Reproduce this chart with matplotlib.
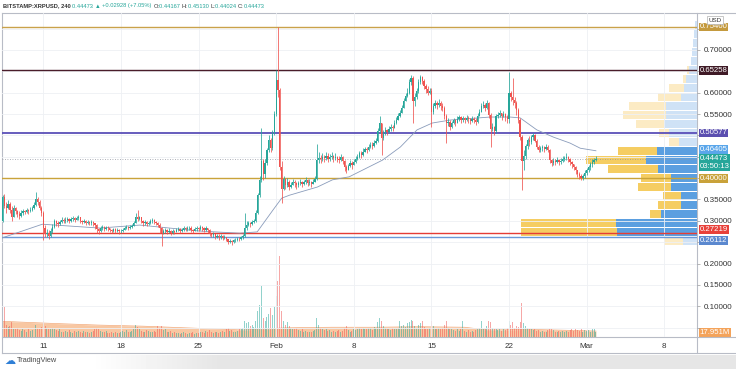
import matplotlib
matplotlib.use('Agg')
import matplotlib.pyplot as plt
import matplotlib.dates as mdates
import matplotlib.transforms as mtransforms
from matplotlib.lines import Line2D
import numpy as np
import pandas as pd

plt.rcParams['font.family'] = ['Liberation Sans', 'DejaVu Sans']

W, H = 736, 369

# ---- BITSTAMP:XRPUSD 4h candles, prices in thousandths of a dollar ----
first_bar = '2021-01-07 08:00'
first_open = 300

closes = [
    356, 335, 330, 340,                      # Jan 7 (from 08:00)
    325, 310, 330, 322, 316, 312,            # Jan 8
    318, 322, 320, 325, 322, 326,            # Jan 9
    330, 338, 352, 345, 330, 318,            # Jan 10
    282, 268, 272, 265, 275, 285,            # Jan 11
    300, 295, 292, 298, 303, 300,            # Jan 12
    302, 305, 300, 304, 306, 303,            # Jan 13
    307, 309, 300, 297, 299, 296,            # Jan 14
    298, 295, 297, 294, 290, 280,            # Jan 15
    275, 283, 285, 280, 284, 282,            # Jan 16
    278, 275, 280, 276, 278, 275,            # Jan 17
    276, 279, 283, 285, 282, 286,            # Jan 18
    288, 296, 310, 305, 308, 300,            # Jan 19
    295, 298, 292, 296, 299, 301,            # Jan 20
    297, 295, 290, 282, 272, 275,            # Jan 21
    278, 274, 277, 271, 276, 274,            # Jan 22
    279, 281, 276, 279, 283, 280,            # Jan 23
    282, 284, 278, 276, 280, 283,            # Jan 24
    281, 285, 282, 279, 283, 278,            # Jan 25
    270, 266, 268, 263, 265, 261,            # Jan 26
    264, 260, 262, 257, 251, 253,            # Jan 27
    250, 254, 256, 258, 257, 261,            # Jan 28
    265, 282, 290, 294, 292, 297,            # Jan 29
    300, 318, 360, 395, 440, 410,            # Jan 30
    435, 465, 490, 470, 505, 550,            # Jan 31
    630, 606, 426, 375, 398, 385,            # Feb 1
    392, 380, 385, 392, 388, 383,            # Feb 2
    388, 392, 386, 390, 395, 389,            # Feb 3
    391, 387, 392, 398, 442, 448,            # Feb 4
    444, 450, 447, 452, 445, 449,            # Feb 5
    452, 446, 450, 445, 443, 449,            # Feb 6
    440, 425, 420, 428, 435, 430,            # Feb 7
    438, 445, 450, 458, 455, 462,            # Feb 8
    468, 465, 472, 478, 475, 482,            # Feb 9
    488, 510, 528, 495, 505, 512,            # Feb 10
    508, 515, 520, 518, 528, 535,            # Feb 11
    545, 552, 565, 580, 592, 600,            # Feb 12
    625, 635, 580, 590, 605, 625,            # Feb 13
    637, 628, 615, 608, 600, 605,            # Feb 14
    555, 568, 575, 572, 577, 570,            # Feb 15
    565, 545, 528, 532, 520, 528,            # Feb 16
    535, 530, 538, 542, 537, 540,            # Feb 17
    536, 541, 538, 534, 539, 536,            # Feb 18
    532, 545, 555, 568, 572, 565,            # Feb 19
    575, 548, 515, 520, 510, 545,            # Feb 20
    548, 552, 545, 550, 542, 538,            # Feb 21
    600, 590, 583, 575, 560, 536,            # Feb 22
    496, 440, 452, 475, 490, 485,            # Feb 23
    496, 500, 488, 473, 466, 470,            # Feb 24
    472, 468, 474, 466, 442, 436,            # Feb 25
    440, 437, 443, 438, 441, 445,            # Feb 26
    447, 450, 444, 438, 432, 425,            # Feb 27
    418, 410, 405, 400, 404, 412,            # Feb 28
    418, 425, 432, 438, 441.67, 444.73,      # Mar 1
]

highs = [
    360, 362, 345, 348,
    345, 335, 338, 333, 325, 322,
    325, 328, 326, 330, 328, 332,
    335, 345, 367, 355, 348, 335,
    322, 290, 280, 278, 282, 292,
    305, 303, 300, 303, 308, 306,
    308, 310, 306, 309, 311, 309,
    311, 313, 310, 303, 304, 301,
    303, 300, 301, 299, 296, 292,
    282, 288, 290, 287, 289, 287,
    284, 281, 284, 282, 282, 280,
    281, 284, 288, 290, 288, 291,
    292, 300, 318, 325, 312, 310,
    302, 303, 299, 300, 304, 306,
    304, 300, 298, 294, 285, 280,
    283, 281, 282, 279, 281, 279,
    284, 286, 283, 284, 288, 285,
    287, 289, 287, 281, 285, 288,
    286, 290, 289, 285, 288, 284,
    280, 272, 273, 270, 270, 268,
    269, 266, 266, 263, 258, 257,
    256, 258, 260, 262, 262, 265,
    268, 318, 300, 299, 298, 302,
    305, 325, 365, 405, 517, 445,
    445, 470, 500, 495, 512, 558,
    653, 754, 612, 440, 405, 400,
    400, 396, 392, 398, 395, 392,
    394, 398, 394, 396, 402, 398,
    397, 394, 398, 405, 480, 460,
    455, 458, 455, 462, 458, 456,
    460, 455, 458, 452, 451, 456,
    452, 442, 430, 434, 442, 440,
    444, 452, 456, 464, 463, 470,
    474, 472, 480, 485, 484, 490,
    494, 518, 545, 530, 512, 520,
    515, 522, 527, 525, 535, 542,
    552, 560, 572, 588, 600, 610,
    632, 642, 640, 600, 612, 632,
    642, 640, 632, 620, 615, 612,
    610, 575, 582, 580, 585, 580,
    575, 570, 550, 540, 535, 534,
    541, 538, 545, 548, 545, 546,
    544, 548, 546, 541, 546, 543,
    540, 552, 562, 575, 580, 575,
    582, 578, 552, 528, 522, 550,
    555, 560, 553, 558, 552, 548,
    648, 605, 634, 590, 580, 565,
    540, 500, 465, 480, 495, 498,
    502, 506, 504, 492, 478, 476,
    478, 476, 480, 478, 468, 445,
    446, 444, 450, 445, 448, 452,
    452, 458, 452, 448, 440, 433,
    428, 420, 415, 410, 410, 418,
    424, 430, 438, 444, 448, 451.3,
]

lows = [
    298, 330, 318, 328,
    318, 300, 308, 315, 308, 305,
    310, 314, 315, 318, 316, 320,
    322, 328, 335, 338, 325, 312,
    255, 262, 262, 258, 262, 272,
    283, 288, 286, 290, 295, 294,
    296, 298, 295, 298, 300, 298,
    301, 303, 296, 292, 294, 291,
    292, 290, 291, 289, 280, 272,
    268, 274, 279, 276, 279, 277,
    273, 271, 274, 272, 273, 270,
    271, 274, 278, 280, 278, 281,
    283, 287, 294, 300, 301, 295,
    289, 291, 287, 290, 293, 296,
    292, 290, 285, 272, 240, 268,
    271, 268, 271, 266, 270, 269,
    273, 275, 272, 274, 277, 275,
    277, 278, 273, 271, 275, 277,
    276, 279, 277, 274, 277, 272,
    265, 261, 263, 258, 260, 256,
    258, 255, 257, 252, 245, 247,
    244, 248, 251, 253, 252, 256,
    258, 262, 278, 287, 286, 290,
    294, 298, 316, 355, 390, 395,
    400, 430, 460, 462, 465, 500,
    545, 590, 420, 342, 372, 375,
    378, 372, 376, 383, 380, 375,
    380, 384, 379, 383, 387, 382,
    384, 380, 386, 390, 395, 435,
    436, 440, 438, 443, 437, 440,
    444, 438, 442, 437, 435, 441,
    432, 416, 412, 418, 426, 422,
    430, 436, 442, 448, 447, 452,
    460, 458, 464, 470, 468, 473,
    480, 484, 505, 455, 490, 500,
    500, 506, 511, 510, 519, 526,
    536, 542, 556, 570, 583, 590,
    596, 618, 530, 570, 585, 600,
    620, 620, 608, 600, 594, 596,
    520, 550, 563, 562, 567, 560,
    556, 538, 482, 522, 512, 518,
    526, 523, 530, 534, 530, 532,
    528, 533, 530, 527, 531, 528,
    525, 530, 545, 556, 563, 557,
    562, 540, 473, 510, 500, 505,
    540, 544, 537, 542, 534, 528,
    530, 580, 572, 565, 548, 530,
    490, 372, 420, 445, 468, 475,
    480, 490, 484, 468, 460, 462,
    464, 460, 466, 460, 436, 428,
    430, 430, 435, 430, 433, 437,
    440, 442, 437, 430, 424, 418,
    410, 402, 398, 395, 396, 400,
    408, 414, 420, 426, 433, 440.24,
]

# volume per 4h bar (millions XRP)
volumes = [
    96, 111, 45, 38,
    42, 55, 30, 28, 35, 25,
    22, 30, 26, 20, 28, 24,
    25, 40, 45, 35, 30, 38,
    60, 42, 35, 30, 28, 32,
    30, 25, 22, 28, 20, 18,
    22, 18, 25, 20, 16, 22,
    18, 24, 20, 15, 22, 18,
    20, 16, 18, 24, 30, 35,
    28, 22, 20, 18, 24, 16,
    15, 18, 14, 20, 16, 15,
    18, 22, 20, 25, 18, 20,
    24, 30, 45, 38, 28, 22,
    20, 18, 25, 22, 18, 20,
    22, 18, 40, 35, 42, 25,
    28, 20, 18, 22, 16, 18,
    14, 16, 12, 15, 18, 14,
    12, 15, 14, 18, 12, 14,
    16, 20, 18, 15, 22, 18,
    25, 18, 16, 20, 18, 15,
    18, 22, 20, 28, 35, 22,
    25, 20, 18, 22, 28, 30,
    35, 58, 50, 55, 40, 45,
    38, 60, 95, 120, 188, 70,
    60, 75, 85, 108, 80, 110,
    150, 207, 300, 96, 60, 45,
    55, 40, 35, 30, 28, 32,
    25, 22, 28, 20, 24, 18,
    20, 18, 22, 25, 71, 45,
    35, 28, 25, 30, 22, 26,
    20, 24, 18, 22, 26, 20,
    22, 35, 40, 25, 20, 24,
    28, 25, 30, 35, 28, 32,
    30, 28, 35, 32, 25, 38,
    35, 55, 71, 60, 40, 35,
    28, 30, 25, 32, 28, 30,
    35, 60, 40, 45, 38, 50,
    55, 64, 58, 40, 35, 45,
    50, 60, 38, 30, 28, 32,
    58, 40, 30, 28, 35, 30,
    32, 45, 58, 35, 30, 28,
    25, 22, 28, 24, 30, 58,
    22, 20, 25, 18, 22, 20,
    25, 30, 35, 58, 30, 28,
    40, 58, 55, 35, 28, 30,
    25, 28, 22, 30, 25, 35,
    60, 45, 55, 35, 40, 38,
    55, 126, 50, 40, 35, 30,
    28, 25, 30, 22, 25, 20,
    22, 18, 20, 25, 30, 28,
    25, 20, 18, 22, 20, 24,
    18, 22, 20, 25, 28, 22,
    30, 25, 22, 28, 20, 25,
    22, 25, 20, 28, 30, 17.951,
]

# moving average on price (read at a few points)
ma_dates = ['2021-01-07 07:00', '2021-01-10 22:00', '2021-01-16 02:00', '2021-01-19 17:00',
            '2021-01-25 02:00', '2021-01-28 17:00', '2021-01-30 07:00', '2021-01-31 17:00',
            '2021-02-01 12:00', '2021-02-02 05:00', '2021-02-04 17:00', '2021-02-06 02:00',
            '2021-02-07 14:00', '2021-02-10 14:00', '2021-02-12 05:00', '2021-02-13 17:00',
            '2021-02-15 02:00', '2021-02-16 17:00', '2021-02-20 07:00', '2021-02-22 02:00',
            '2021-02-23 00:00', '2021-02-24 12:00', '2021-02-26 00:00', '2021-02-27 12:00',
            '2021-02-28 10:00', '2021-03-01 20:00']
ma_values = [0.260, 0.292, 0.283, 0.290, 0.276, 0.271, 0.274, 0.325, 0.353, 0.360,
             0.379, 0.396, 0.403, 0.442, 0.473, 0.513, 0.529, 0.536, 0.543, 0.543,
             0.541, 0.513, 0.496, 0.482, 0.470, 0.46405]

# volume moving average (area)
vma_dates = ['2021-01-07 08:00', '2021-01-09 00:00', '2021-01-12 00:00', '2021-01-16 00:00',
             '2021-01-20 00:00', '2021-01-25 00:00', '2021-01-29 00:00', '2021-02-02 00:00',
             '2021-02-06 00:00', '2021-02-10 00:00', '2021-02-14 00:00', '2021-02-18 00:00',
             '2021-02-20 00:00', '2021-02-24 00:00', '2021-02-28 00:00', '2021-03-01 20:00']
vma_values = [58, 55, 50, 44, 40, 32, 26, 34, 36, 36, 38, 36, 26, 28, 24, 22]

# visible range volume profile, rows from 0.242 upward
vp_start, vp_step = 0.242, 0.0211
vp_up = [14, 80, 81, 36, 16, 16, 26, 26, 39, 51, 40, 18, 28, 33, 31, 31, 16, 13, 11, 8, 6, 5, 4, 3, 2]
vp_down = [19, 96, 95, 11, 23, 18, 33, 30, 50, 60, 39, 10, 10, 28, 43, 37, 23, 15, 3, 2, 0, 0, 0, 0, 0]
value_area = range(1, 11)

# drawn horizontal levels
levels = [0.754, 0.65258, 0.50577, 0.40000, 0.27219, 0.26112]
level_labels = ['0.75400', '0.65258', '0.50577', '0.40000', '0.27219', '0.26112']
level_colors = ['#c9a24a', '#4a1d2a', '#5a4fb8', '#c9a33a', '#e53d36', '#6a98d8']
level_tags = ['#c49a3e', '#3f1a26', '#5b4fb0', '#c9a23a', '#e8413a', '#5b88cf']
tag_nudge = [0, 0, 0, 0, 2.2, -2.2]   # the scale pushes crowded labels apart (pt)
last_price = 0.44473

tick_dates = ['2021-01-11', '2021-01-18', '2021-01-25', '2021-02-01', '2021-02-08',
              '2021-02-15', '2021-02-22', '2021-03-01', '2021-03-08']
tick_labels = ['11', '18', '25', 'Feb', '8', '15', '22', 'Mar', '8']
price_ticks = [0.05, 0.10, 0.15, 0.20, 0.25, 0.30, 0.35, 0.40, 0.45, 0.50, 0.55, 0.60, 0.65, 0.70, 0.75]
shown_ticks = [0.10, 0.15, 0.20, 0.30, 0.35, 0.55, 0.60, 0.70]

UP, DOWN = '#26a69a', '#ef5350'

closes = np.array(closes) / 1000
highs = np.array(highs) / 1000
lows = np.array(lows) / 1000
volumes = np.array(volumes, dtype=float)
n = len(closes)
t = mdates.date2num(pd.date_range(first_bar, periods=n, freq='4h'))
opens = np.r_[first_open / 1000, closes[:-1]]
highs = np.maximum(highs, np.maximum(opens, closes))
lows = np.minimum(lows, np.minimum(opens, closes))
up = closes >= opens
col = np.where(up, UP, DOWN)

fig = plt.figure(figsize=(W / 100, H / 100), dpi=100)
ax = fig.add_axes([2 / W, 1 - 337 / H, 694.5 / W, 324.5 / H])
vol = ax.twinx()
vp = ax.twiny()
for a in (vol, vp):
    a.patch.set_visible(False)
    for s in a.spines.values():
        s.set_visible(False)
vol.set_zorder(1)
vp.set_zorder(2)
ax.set_zorder(3)
ax.patch.set_visible(False)
for s in ax.spines.values():
    s.set_visible(False)

ax.set_xlim(mdates.date2num(pd.Timestamp('2021-01-07 06:45')),
            mdates.date2num(pd.Timestamp('2021-03-10 21:40')))
ax.set_ylim(0.0279, 0.7878)

# grid + axis
ax.set_xticks(mdates.date2num(pd.to_datetime(tick_dates)))
ax.set_xticklabels(tick_labels)
ax.set_yticks(price_ticks)
ax.set_yticklabels([f'{v:.5f}' if any(abs(v - s) < 1e-9 for s in shown_ticks) else ''
                    for v in price_ticks])
ax.yaxis.tick_right()
ax.xaxis.tick_bottom()
ax.grid(True, color='#eef0f4', lw=0.6)
ax.set_axisbelow(True)
ax.tick_params(axis='x', length=0, labelsize=5.8, labelcolor='#333333', pad=4.5)
ax.tick_params(axis='y', length=2.5, width=0.5, color='#9a9a9a', labelsize=5.8,
               labelcolor='#333333', pad=2.5)

# volume pane
vol.set_ylim(0, 1200)
vol.set_yticks([])
vma_x = mdates.date2num(pd.to_datetime(vma_dates))
vol.fill_between(vma_x, vma_values, color='#f8c7a2', lw=0, zorder=1)
vol.plot(vma_x, vma_values, color='#f2a877', lw=0.5, zorder=1)
vol.bar(t, volumes, width=0.09, color=col, alpha=0.5, lw=0, zorder=2)

# volume profile, anchored at right edge
vp.set_xlim(694.5, 0)
vp.set_xticks([])
vp_up = np.array(vp_up)
vp_down = np.array(vp_down)
rows = vp_start + vp_step * (np.arange(len(vp_up)) + 0.5)
in_va = np.isin(np.arange(len(vp_up)), list(value_area))
blue = np.where(in_va, '#5b9fe0', '#cfe2f6')
yellow = np.where(in_va, '#f5cd62', '#fcebc4')
vp.barh(rows, vp_up, height=vp_step * 0.88, color=blue, lw=0)
vp.barh(rows, vp_down, left=vp_up, height=vp_step * 0.88, color=yellow, lw=0)

# levels
for lv, c in zip(levels, level_colors):
    ax.axhline(lv, color=c, lw=1.3 if c == '#5a4fb8' else 1.0, zorder=2)
ax.axhline(last_price, color='#9598a1', lw=0.6, ls=(0, (1, 2)), zorder=2)

# price MA
ax.plot(mdates.date2num(pd.to_datetime(ma_dates)), ma_values, color='#8a9cbb', lw=0.6, zorder=3)

# candles
ax.vlines(t, lows, highs, colors=col, lw=0.55, zorder=4)
body = np.maximum(np.abs(closes - opens), 0.0012)
ax.bar(t, body, bottom=np.minimum(opens, closes), width=0.115, color=col, lw=0, zorder=5)


# price tags on the scale
def tag(axes, y, text, color, va='center', dy=0):
    tr = mtransforms.blended_transform_factory(axes.transAxes, axes.transData)
    axes.annotate(text, xy=(1.0045, y), xycoords=tr, xytext=(0, dy), textcoords='offset points',
                  ha='left', va=va, fontsize=5.6, color='white', linespacing=1.15,
                  bbox=dict(boxstyle='square,pad=0.12', fc=color, ec='none'),
                  annotation_clip=False, zorder=10)


for lv, lab, c, d in zip(levels, level_labels, level_tags, tag_nudge):
    tag(ax, lv, lab, c, dy=d)
tag(ax, ma_values[-1], f'{ma_values[-1]:.5f}', '#5aa6ea', dy=1.0)
tag(ax, last_price, f'{last_price:.5f}\n03:50:13', '#26a69a', va='top', dy=2.6)
tag(vol, volumes[-1], '17.951M', '#f4a35a')

fig.text(715 / W, 1 - 20 / H, 'USD', fontsize=4.5, color='#333333', ha='center', va='center',
         bbox=dict(boxstyle='square,pad=0.25', fc='white', ec='#b0b0b0', lw=0.5), zorder=20)

# frame
frame = dict(color='#b8bcc6', lw=0.8)
for (x0, y0, x1, y1) in [(2, 12.5, 736, 12.5), (2, 12.5, 2, 353), (2, 353, 736, 353),
                         (2, 337, 736, 337), (697, 12.5, 697, 353)]:
    fig.add_artist(Line2D([x0 / W, x1 / W], [1 - y0 / H, 1 - y1 / H], **frame))

# header
pieces = [('BITSTAMP:XRPUSD, 240 ', '#333333'), ('0.44473 ', UP), ('\u25b2 ', UP),
          ('+0.02928 (+7.05%) ', UP), ('O:', '#333333'), ('0.44167 ', UP), ('H:', '#333333'),
          ('0.45130 ', UP), ('L:', '#333333'), ('0.44024 ', UP), ('C:', '#333333'), ('0.44473', UP)]
prev = fig.text(3 / W, 1 - 6 / H, pieces[0][0], fontsize=4.15, color=pieces[0][1],
                va='center', ha='left', fontweight='bold')
for txt, c in pieces[1:]:
    prev = ax.annotate(txt, xy=(1, 0.5), xycoords=prev, ha='left', va='center', fontsize=4.15,
                       color=c, annotation_clip=False)

# bottom strip + logo
gax = fig.add_axes([0, 0, 1, 14 / H], zorder=-5)
g = np.clip((np.arange(W) - 90) / 130, 0, 1)
gax.imshow((1 - 0.1 * g)[None, :], cmap='gray', vmin=0, vmax=1, aspect='auto')
gax.axis('off')
fig.text(10 / W, 1 - 361 / H, '\u2601', fontsize=8, color='#2f7fd6', ha='center', va='center',
         family='DejaVu Sans')
fig.text(17 / W, 1 - 361 / H, 'TradingView', fontsize=5.3, color='#4a4a4a', va='center')

fig.savefig('out.png', dpi=100)
